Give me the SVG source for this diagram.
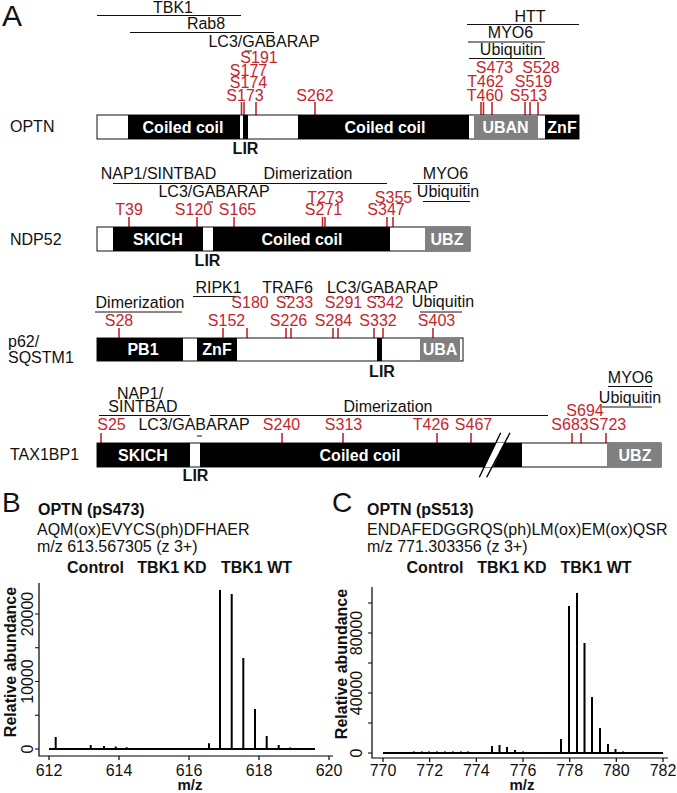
<svg xmlns="http://www.w3.org/2000/svg" width="677" height="793" viewBox="0 0 677 793">
<style>
text{font-family:"Liberation Sans",Arial,Helvetica,sans-serif;font-size:16px;fill:#111}
.r{fill:#c4262e}
.m{text-anchor:middle}
.b{font-weight:bold}
.w{fill:#fff;font-weight:bold;text-anchor:middle}
.big{font-size:30px}
.ln{stroke:#111;stroke-width:1;fill:none}
.tk{stroke:#c4262e;stroke-width:1.6;fill:none}
.frame{fill:#fff;stroke:#111;stroke-width:1}
.k{fill:#000}
.g{fill:#808080}
.ax{stroke:#000;stroke-width:1.2;fill:none}
.pk{stroke:#000;stroke-width:2;fill:none}
.mz{font-size:15px;font-weight:bold;text-anchor:middle}
</style>

<text x="2" y="26" class="big">A</text>

<g id="optn">
  <text x="10" y="132">OPTN</text>
  <text x="173" y="13" class="m">TBK1</text>
  <path class="ln" d="M97,15.5H241M130,32.5H274M245,51H252M467,24.5H579M468,42H545M469,58.5H545"/>
  <text x="206" y="29" class="m">Rab8</text>
  <text x="264" y="47" class="m">LC3/GABARAP</text>
  <text x="530" y="22" class="m">HTT</text>
  <text x="510.5" y="38" class="m">MYO6</text>
  <text x="511" y="55" class="m">Ubiquitin</text>
  <g class="r">
    <text x="259" y="63" class="m r">S191</text>
    <text x="248.5" y="75.5" class="m r">S177</text>
    <text x="248.5" y="88" class="m r">S174</text>
    <text x="245" y="100.5" class="m r">S173</text>
    <text x="315" y="100.5" class="m r">S262</text>
    <text x="494.5" y="73" class="m r">S473</text>
    <text x="541" y="73" class="m r">S528</text>
    <text x="485.5" y="87" class="m r">T462</text>
    <text x="533.5" y="87" class="m r">S519</text>
    <text x="485" y="100.5" class="m r">T460</text>
    <text x="528.5" y="100.5" class="m r">S513</text>
  </g>
  <path class="tk" d="M241.5,102V115M244,102V115M256,102V115M315,102V115M481,102V115M483.5,102V115M492,102V115M525,102V115M530,102V115M538,102V115"/>
  <rect class="frame" x="97" y="115" width="482" height="24"/>
  <rect class="k" x="128" y="115" width="112" height="24"/>
  <rect class="k" x="243" y="115" width="5" height="24"/>
  <rect class="k" x="298" y="115" width="171" height="24"/>
  <rect class="g" x="474" y="115" width="64" height="24"/>
  <rect class="k" x="545" y="115" width="34" height="24"/>
  <text x="183" y="133" class="w">Coiled coil</text>
  <text x="385" y="133" class="w">Coiled coil</text>
  <text x="505.5" y="133" class="w">UBAN</text>
  <text x="562" y="133" class="w">ZnF</text>
  <text x="245.5" y="154" class="m b">LIR</text>
</g>

<g id="ndp52">
  <text x="10" y="245">NDP52</text>
  <text x="158.5" y="179" class="m">NAP1/SINTBAD</text>
  <text x="308" y="179" class="m">Dimerization</text>
  <text x="445.5" y="179" class="m">MYO6</text>
  <text x="214" y="197" class="m">LC3/GABARAP</text>
  <text x="448" y="197" class="m">Ubiquitin</text>
  <path class="ln" d="M113,183.5H387M413,183.5H470M207,202H213M423,201.5H470"/>
  <text x="325.5" y="203" class="m r">T273</text>
  <text x="393.5" y="203" class="m r">S355</text>
  <text x="129" y="215" class="m r">T39</text>
  <text x="193.5" y="215" class="m r">S120</text>
  <text x="237.5" y="215" class="m r">S165</text>
  <text x="323.5" y="215" class="m r">S271</text>
  <text x="386" y="215" class="m r">S347</text>
  <path class="tk" d="M129,217V227M197,217V227M234,217V227M322.5,217V227M325,217V227M387,217V227M393,217V227"/>
  <rect class="frame" x="97" y="227" width="373" height="24"/>
  <rect class="k" x="113" y="227" width="90" height="24"/>
  <rect class="k" x="213" y="227" width="177" height="24"/>
  <rect class="g" x="425" y="227" width="45" height="24"/>
  <text x="158" y="245" class="w">SKICH</text>
  <text x="302" y="245" class="w">Coiled coil</text>
  <text x="447" y="245" class="w">UBZ</text>
  <text x="207.5" y="266" class="m b">LIR</text>
</g>

<g id="p62">
  <text x="8" y="347">p62/</text>
  <text x="8" y="363">SQSTM1</text>
  <text x="218.5" y="293" class="m">RIPK1</text>
  <text x="287.5" y="293" class="m">TRAF6</text>
  <text x="382.5" y="293" class="m">LC3/GABARAP</text>
  <text x="140" y="308" class="m">Dimerization</text>
  <text x="443" y="307" class="m">Ubiquitin</text>
  <path class="ln" d="M193,296.5H236M285,296.5H290M375,296.5H380M95,312H182M420,312H462"/>
  <text x="250" y="308" class="m r">S180</text>
  <text x="294.5" y="308" class="m r">S233</text>
  <text x="343.5" y="308" class="m r">S291</text>
  <text x="385" y="308" class="m r">S342</text>
  <text x="119" y="326" class="m r">S28</text>
  <text x="226.5" y="326" class="m r">S152</text>
  <text x="288.5" y="326" class="m r">S226</text>
  <text x="333.5" y="326" class="m r">S284</text>
  <text x="378" y="326" class="m r">S332</text>
  <text x="436.5" y="326" class="m r">S403</text>
  <path class="tk" d="M119,328V338M223,328V338M247,328V338M286,328V338M291,328V338M333,328V338M338,328V338M374,328V338M383,328V338M433,328V338"/>
  <rect class="frame" x="97" y="338" width="366" height="23"/>
  <rect class="k" x="97" y="338" width="86" height="23"/>
  <rect class="k" x="197" y="338" width="40" height="23"/>
  <rect class="k" x="377" y="338" width="5" height="23"/>
  <rect class="g" x="420" y="338" width="40" height="23"/>
  <text x="143" y="355" class="w">PB1</text>
  <text x="217" y="355" class="w">ZnF</text>
  <text x="440" y="355" class="w">UBA</text>
  <text x="382" y="377" class="m b">LIR</text>
</g>

<g id="tax1bp1">
  <text x="10" y="460">TAX1BP1</text>
  <text x="140" y="399" class="m">NAP1/</text>
  <text x="143" y="412" class="m">SINTBAD</text>
  <text x="388" y="412" class="m">Dimerization</text>
  <text x="630.5" y="383" class="m">MYO6</text>
  <text x="630" y="403" class="m">Ubiquitin</text>
  <text x="194" y="430" class="m">LC3/GABARAP</text>
  <path class="ln" d="M99,415.5H190M210,415.5H548M608,386.5H652M601,407H652M197,436H202"/>
  <text x="585" y="416" class="m r">S694</text>
  <text x="111.5" y="430" class="m r">S25</text>
  <text x="281.5" y="430" class="m r">S240</text>
  <text x="343.5" y="430" class="m r">S313</text>
  <text x="431" y="430" class="m r">T426</text>
  <text x="473.5" y="430" class="m r">S467</text>
  <text x="570" y="430" class="m r">S683</text>
  <text x="607.5" y="430" class="m r">S723</text>
  <path class="tk" d="M101,433V443M282,433V443M343,433V443M437,433V443M471,433V443M572,433V443M581,433V443M606,433V443"/>
  <rect class="frame" x="97" y="443" width="564" height="24"/>
  <rect class="k" x="97" y="443" width="93" height="24"/>
  <rect class="k" x="200" y="443" width="322" height="24"/>
  <rect class="g" x="607" y="443" width="54" height="24"/>
  <polygon fill="#fff" points="484.4,467 496,443 504.6,443 492.9,467"/>
  <path stroke="#000" stroke-width="1.4" fill="none" d="M479.3,477.3L500.7,432.7M486.7,477.3L510,432.7"/>
  <text x="143" y="461" class="w">SKICH</text>
  <text x="360" y="461" class="w">Coiled coil</text>
  <text x="635" y="461" class="w">UBZ</text>
  <text x="195.5" y="481" class="m b">LIR</text>
</g>

<g id="panelB">
  <text x="2" y="512" style="font-size:28px">B</text>
  <text x="38" y="515" class="b">OPTN (pS473)</text>
  <text x="37" y="535">AQM(ox)EVYCS(ph)DFHAER</text>
  <text x="37" y="552">m/z 613.567305 (z 3+)</text>
  <text x="95.5" y="573" class="m b">Control</text>
  <text x="172" y="573" class="m b">TBK1 KD</text>
  <text x="256.5" y="573" class="m b">TBK1 WT</text>
  <path class="ax" d="M39,583V756H333M35,749H39M35,715.25H39M35,681.5H39M35,647.75H39M35,614H39M49,756V760M119,756V760M189,756V760M259,756V760M329,756V760"/>
  <text transform="translate(33,749) rotate(-90)" class="m">0</text>
  <text transform="translate(33,681.5) rotate(-90)" class="m">10000</text>
  <text transform="translate(33,614) rotate(-90)" class="m">20000</text>
  <text transform="translate(16,662) rotate(-90)" class="m b">Relative abundance</text>
  <text x="49" y="776" class="m">612</text>
  <text x="119" y="776" class="m">614</text>
  <text x="189" y="776" class="m">616</text>
  <text x="259" y="776" class="m">618</text>
  <text x="329" y="776" class="m">620</text>
  <text x="190" y="790" class="mz">m/z</text>
  <path class="pk" d="M49,749H315M55.7,749V737M90.7,749V745M104,749V746M115.7,749V746.5M126.7,749V747.3M139.3,749V748M150,749V748M161,749V748M209,749V743.3M220,749V590M231.7,749V594M243.3,749V658M255,749V709M266.7,749V736M278.7,749V745M290,749V747.5M301.7,749V748.3"/>
</g>

<g id="panelC">
  <text x="332" y="512" style="font-size:28px">C</text>
  <text x="367" y="515" class="b">OPTN (pS513)</text>
  <text x="367" y="535">ENDAFEDGGRQS(ph)LM(ox)EM(ox)QSR</text>
  <text x="367" y="552">m/z 771.303356 (z 3+)</text>
  <text x="435" y="573" class="m b">Control</text>
  <text x="512" y="573" class="m b">TBK1 KD</text>
  <text x="596" y="573" class="m b">TBK1 WT</text>
  <path class="ax" d="M372,587V758H668M368,753H372M368,723H372M368,693H372M368,663H372M368,633H372M368,603H372M383,758V762M429.7,758V762M476.3,758V762M523,758V762M569.7,758V762M616.3,758V762M663,758V762"/>
  <text transform="translate(362,753) rotate(-90)" class="m">0</text>
  <text transform="translate(362,693) rotate(-90)" class="m">40000</text>
  <text transform="translate(362,633) rotate(-90)" class="m">80000</text>
  <text transform="translate(347,664) rotate(-90)" class="m b">Relative abundance</text>
  <text x="383" y="776" class="m">770</text>
  <text x="429.7" y="776" class="m">772</text>
  <text x="476.3" y="776" class="m">774</text>
  <text x="523" y="776" class="m">776</text>
  <text x="569.7" y="776" class="m">778</text>
  <text x="616.3" y="776" class="m">780</text>
  <text x="663" y="776" class="m">782</text>
  <text x="522" y="790" class="mz">m/z</text>
  <path class="pk" d="M383,753H663M414,753V751.5M422,753V751.5M429,753V751.5M437,753V751.5M445,753V751.5M453,753V751.5M461,753V751.5M468,753V751.5M492,753V746M499.5,753V745M507,753V747M515,753V750M523,753V751.5M561,753V739M569,753V606M577,753V593M584.5,753V643M592,753V697M600,753V728M608,753V744M615.5,753V749M623,753V751.5M631,753V752"/>
</g>
</svg>
